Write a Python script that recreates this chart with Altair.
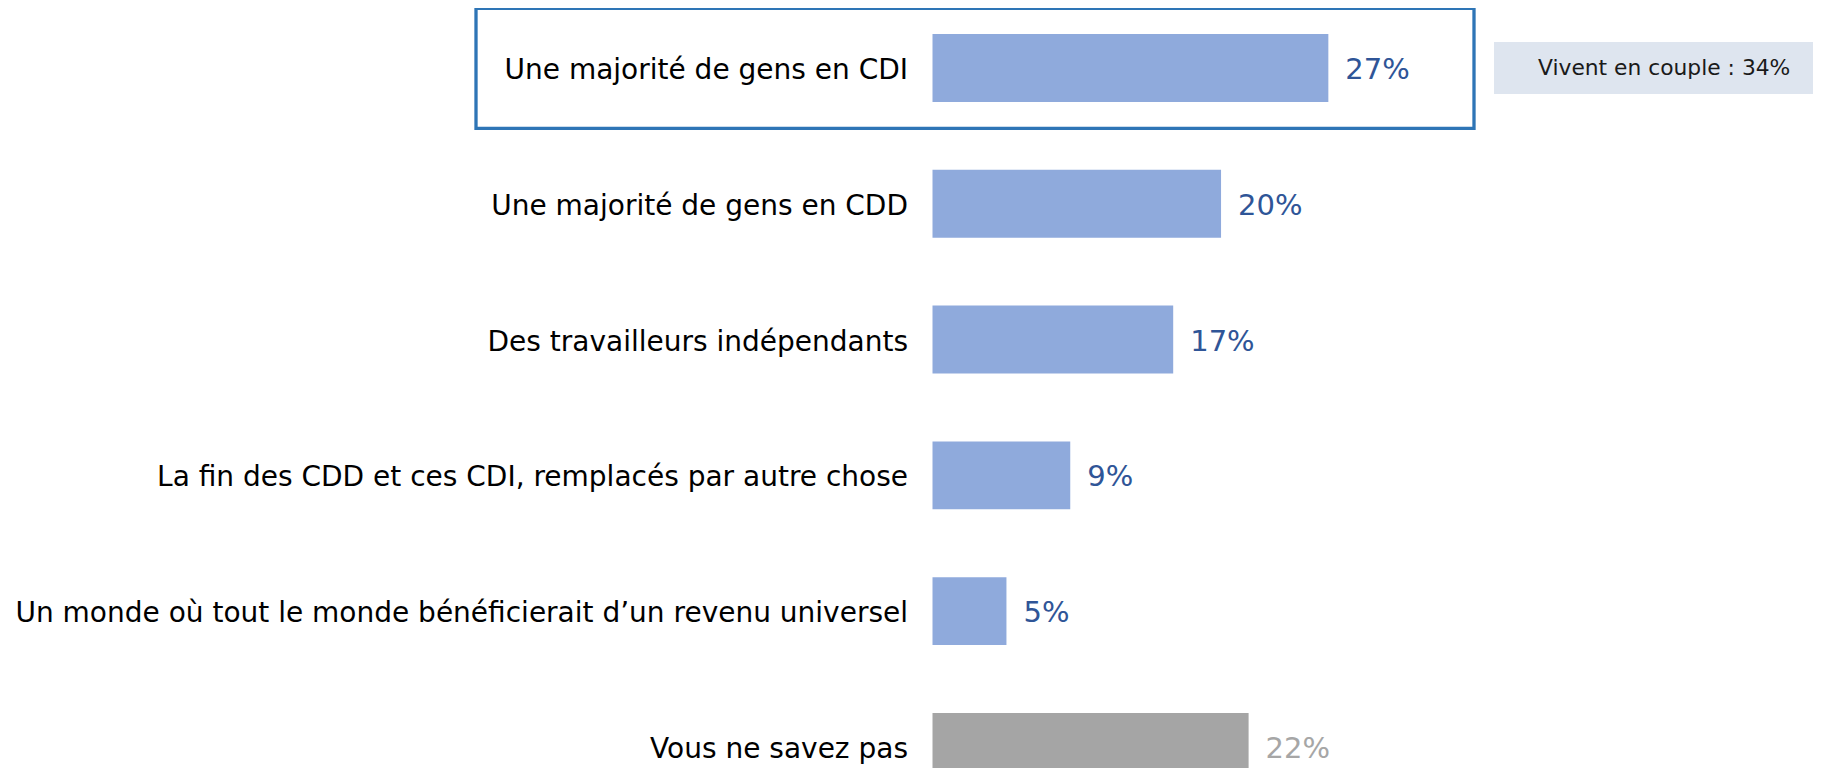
import altair as alt
import pandas as pd

# ---- data ----
categories = [
    "Une majorité de gens en CDI",
    "Une majorité de gens en CDD",
    "Des travailleurs indépendants",
    "La fin des CDD et ces CDI, remplacés par autre chose",
    "Un monde où tout le monde bénéficierait d’un revenu universel",
    "Vous ne savez pas",
]
values = [27.3, 19.9, 16.6, 9.5, 5.1, 21.8]
value_labels = ["27%", "20%", "17%", "9%", "5%", "22%"]
groups = ["reponse", "reponse", "reponse", "reponse", "reponse", "nsp"]
note_text = "Vivent en couple : 34%"

df = pd.DataFrame({"cat": categories, "val": values, "lab": value_labels, "grp": groups})

# ---- layout ----
PX_PER_PCT = 14.5
W = 880.5
H = 756
STEP = 135.8
OUTER = 22 / STEP
Y_RANGE = [0, STEP * (6 - 0.5 + 2 * OUTER)]
FONT = "DejaVu Sans"

y_enc = alt.Y(
    "cat:N",
    sort=categories,
    scale=alt.Scale(paddingInner=0.5, paddingOuter=OUTER, range=Y_RANGE),
    axis=alt.Axis(
        title=None, domain=False, ticks=False, grid=False,
        labelFontSize=28, labelFont=FONT, labelColor="#000000",
        labelPadding=25, labelLimit=2000, labelOffset=3,
    ),
)
x_enc = alt.X("val:Q", scale=alt.Scale(domain=[0, W / PX_PER_PCT], nice=False, zero=True), axis=None)

color_scale = alt.Scale(domain=["reponse", "nsp"], range=["#8FAADC", "#A5A5A5"])
text_scale = alt.Scale(domain=["reponse", "nsp"], range=["#2F5597", "#A6A6A6"])

bars = alt.Chart(df).mark_bar().encode(
    x=x_enc, y=y_enc,
    color=alt.Color("grp:N", scale=color_scale, legend=None),
)

labels = alt.Chart(df).mark_text(
    align="left", baseline="middle", dx=17, dy=2, fontSize=29, font=FONT
).encode(
    x=x_enc, y=y_enc, text="lab:N",
    color=alt.Color("grp:N", scale=text_scale, legend=None),
)

one = pd.DataFrame({"note": [note_text]})

highlight = alt.Chart(one).mark_rect(
    fillOpacity=0, stroke="#2E75B6", strokeWidth=3.3
).encode(
    x=alt.value(-456.5), x2=alt.value(541.5),
    y=alt.value(-3.7), y2=alt.value(116.3),
)

note_box = alt.Chart(one).mark_rect(color="#DEE5EF").encode(
    x=alt.value(561.5), x2=alt.value(W),
    y=alt.value(30), y2=alt.value(82),
)

note = alt.Chart(one).mark_text(
    align="left", baseline="middle", fontSize=21.8, font=FONT, color="#1A1A1A"
).encode(
    x=alt.value(605.5), y=alt.value(56), text="note:N",
)

chart = alt.layer(highlight, note_box, bars, labels, note).resolve_scale(
    color="independent"
).properties(
    width=W, height=H,
    background="white",
    autosize=alt.AutoSizeParams(type="none"),
    padding={"left": 924.5, "top": 4, "right": 0, "bottom": 0},
).configure_view(strokeWidth=0, stroke="transparent").configure_axis(grid=False)

chart.save("out.html", embed_options={"renderer": "svg", "actions": False})
